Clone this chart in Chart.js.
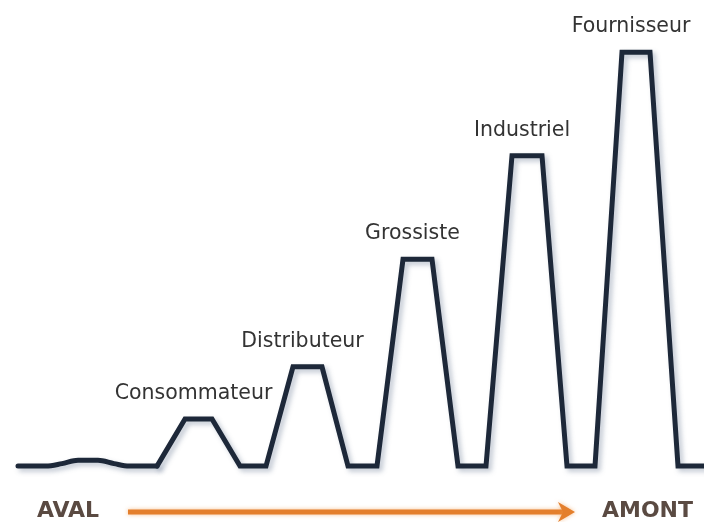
<!DOCTYPE html>
<html>
<head>
<meta charset="utf-8">
<script src="https://cdn.jsdelivr.net/npm/chart.js@4/dist/chart.umd.min.js"></script>
<style>
  html, body { margin: 0; padding: 0; background: #fff; }
  #chart { display: block; }
</style>
</head>
<body>
<canvas id="chart" width="704" height="522"></canvas>
<script>
// Effet coup de fouet : amplitude des commandes le long de la chaîne
// Petite ondulation côté consommateur (lissée)
const tempsAval = [1.8, 4.6, 6.2, 7.8, 9.8, 11.4, 12.9, 15.7];
const demandeAval = [0, 0, 0.6, 1.4, 1.4, 0.6, 0, 0];

// Pics de chaque maillon
const temps = [15.7, 18.5, 21.2, 24.0, 26.6, 29.3, 32.2, 34.8, 37.7, 40.3, 43.2,
               45.8, 48.6, 51.2, 54.2, 56.7, 59.5, 62.2, 65.0, 67.8, 71.0];
const demande = [0, 11.4, 11.4, 0, 0, 24, 24, 0, 0, 50, 50,
                 0, 0, 75, 75, 0, 0, 100, 100, 0, 0];

// Noms des maillons et index du premier point du plateau de chaque pic
const etapes = ['Consommateur', 'Distributeur', 'Grossiste', 'Industriel', 'Fournisseur'];
const sommets = [1, 5, 9, 13, 17];

const texteBas = ['AVAL', 'AMONT'];

const couleurLigne = '#1d2839';

// Ombre portée sous la courbe
const ombre = {
    id: 'ombre',
    beforeDatasetDraw(chart) {
        const ctx = chart.ctx;
        ctx.save();
        ctx.shadowColor = 'rgba(70, 90, 120, 0.35)';
        ctx.shadowBlur = 5;
        ctx.shadowOffsetX = 3;
        ctx.shadowOffsetY = 3;
    },
    afterDatasetDraw(chart) {
        chart.ctx.restore();
    }
};

// Libellés des maillons + flèche aval -> amont
const annotations = {
    id: 'annotations',
    afterDraw(chart) {
        const ctx = chart.ctx;
        const x = chart.scales.x;
        const y = chart.scales.y;
        ctx.save();

        ctx.font = '20.5px "DejaVu Sans", Verdana, sans-serif';
        ctx.fillStyle = '#333333';
        ctx.textAlign = 'center';
        ctx.textBaseline = 'alphabetic';
        etapes.forEach(function(nom, i) {
            const k = sommets[i];
            const cx = (x.getPixelForValue(temps[k]) + x.getPixelForValue(temps[k + 1])) / 2 - 5;
            const cy = y.getPixelForValue(demande[k]) - 20;
            ctx.fillText(nom, cx, cy);
        });

        // textes du bas
        ctx.font = 'bold 22px "DejaVu Sans", Verdana, sans-serif';
        ctx.fillStyle = '#5a4a42';
        ctx.textBaseline = 'middle';
        ctx.textAlign = 'left';
        ctx.fillText(texteBas[0], 37, 511);
        ctx.textAlign = 'right';
        ctx.fillText(texteBas[1], 693, 511);

        // flèche orange
        ctx.strokeStyle = '#e47f2c';
        ctx.shadowColor = 'rgba(240, 150, 70, 0.6)';
        ctx.shadowBlur = 4;
        ctx.lineWidth = 5;
        ctx.lineCap = 'butt';
        ctx.beginPath();
        ctx.moveTo(128, 512);
        ctx.lineTo(566, 512);
        ctx.stroke();
        ctx.fillStyle = '#e47f2c';
        ctx.beginPath();
        ctx.moveTo(558, 502);
        ctx.lineTo(575, 512);
        ctx.lineTo(558, 522);
        ctx.lineTo(563, 512);
        ctx.closePath();
        ctx.fill();

        ctx.restore();
    }
};

new Chart(document.getElementById('chart').getContext('2d'), {
    type: 'line',
    data: {
        datasets: [
            {
                data: tempsAval.map(function(t, i) { return { x: t, y: demandeAval[i] }; }),
                borderColor: couleurLigne,
                borderWidth: 5,
                cubicInterpolationMode: 'monotone',
                pointRadius: 0,
                borderCapStyle: 'round',
                fill: false
            },
            {
                data: temps.map(function(t, i) { return { x: t, y: demande[i] }; }),
                borderColor: couleurLigne,
                borderWidth: 5,
                tension: 0,
                pointRadius: 0,
                borderJoinStyle: 'miter',
                borderCapStyle: 'round',
                fill: false
            }
        ]
    },
    options: {
        responsive: false,
        animation: false,
        layout: { padding: 0 },
        plugins: {
            legend: { display: false },
            tooltip: { enabled: false }
        },
        scales: {
            x: { type: 'linear', min: 0, max: 70.4, display: false },
            y: { type: 'linear', min: -13.5, max: 112.6, display: false }
        }
    },
    plugins: [ombre, annotations]
});
</script>
</body>
</html>
